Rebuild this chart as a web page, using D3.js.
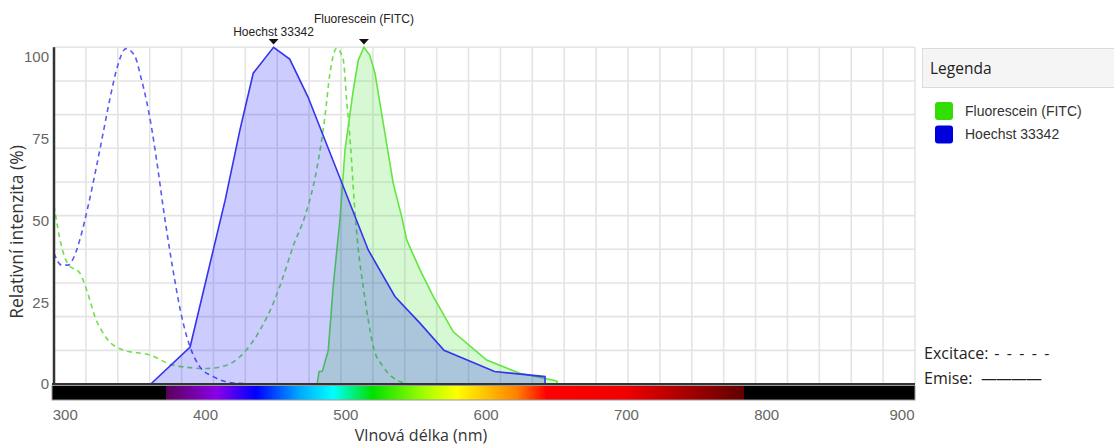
<!DOCTYPE html>
<html lang="cs">
<head>
  <meta charset="UTF-8" />
  <title>Spektra - Hoechst 33342 / FITC</title>
  <script src="https://d3js.org/d3.v7.min.js"></script>
  <style>
    html, body {
      margin: 0;
      padding: 0;
      width: 1114px;
      height: 446px;
      background: #fff;
      overflow: hidden;
      font-family: "Liberation Sans", Arial, sans-serif;
    }
    .tick-label { fill: #666; font-size: 15px; }
    .axis-title { fill: #333; font-size: 16px; font-family: "Open Sans", sans-serif; }
    .peak-label { fill: #222; font-size: 12px; }
  </style>
</head>
<body>
  <svg id="chart" width="1114" height="446"></svg>

  <script>
    /**************************************************************
     *                        DATA
     **************************************************************/
    // Hoechst 33342 - excitation (dashed)
    const hoechstExNm  = [292, 297.4, 302, 306, 310.5, 316.4, 322, 327, 332, 337, 343.3, 349.5, 354, 358, 362, 366, 370, 374, 378, 382, 386, 389, 396, 405.5, 419.6, 440];
    const hoechstExVal = [38.8, 35.3, 35.3, 37.5, 43, 53, 64, 74.5, 85, 94, 99.6, 97.5, 91, 84, 75, 64, 52, 41, 31, 22, 15, 11, 5.1, 2.2, 0.3, 0];

    // Hoechst 33342 - emission (solid, filled)
    const hoechstEmNm  = [347, 361, 389, 414, 424.5, 434, 448.5, 460, 473, 516, 535, 553, 570, 606, 642, 642];
    const hoechstEmVal = [0, 0, 11, 54.6, 75.4, 92.3, 100, 96.5, 85.3, 39.8, 26, 18, 10, 3.7, 2.2, 0];

    // Fluorescein (FITC) - excitation (dashed)
    const fitcExNm  = [292, 297.4, 302, 310.5, 315.3, 321.2, 329.5, 341.3, 360.4, 377, 400.8, 415, 424.5, 438.8, 448.3, 455.4, 462.5, 471, 479.2, 485.1, 488.7, 493.5, 498.2, 500.6, 503.5, 506, 508.9, 512.4, 516, 519.6, 526.7, 536.2, 545.7];
    const fitcExVal = [53, 40.8, 35.6, 32.9, 27.9, 20, 13.6, 10.1, 8.6, 5.6, 4.6, 5.6, 8.1, 16, 24, 31.9, 41, 50, 63.6, 79.4, 92.3, 99.7, 96.2, 84.3, 70, 54, 40, 28.9, 19, 11, 5.1, 1.2, 0];

    // Fluorescein (FITC) - emission (solid, filled)
    const fitcEmNm  = [479.6, 480.9, 483.2, 487.5, 491, 495.8, 499.4, 505.3, 508.9, 512.9, 517, 520.8, 526.7, 533.8, 539.8, 543.4, 552.9, 562.3, 576.6, 600.4, 624, 650.3, 651];
    const fitcEmVal = [0, 3.7, 3.7, 10, 29, 48.7, 69.5, 87.3, 96.2, 100, 97.7, 92.3, 77.4, 59.6, 49.7, 42.8, 33.9, 26, 15.5, 7.1, 3.2, 0.9, 0];

    // Axis ticks
    const xTicks = [300, 400, 500, 600, 700, 800, 900];
    const yTicks = [0, 25, 50, 75, 100];

    // Legend
    const legendNames = ["Fluorescein (FITC)", "Hoechst 33342"];

    // Visible spectrum strip under the x axis (nm -> colour)
    const spectrumNm     = [372, 372, 408, 436, 467, 491, 519, 558, 579, 622, 643, 700, 784, 784];
    const spectrumColors = ["#000", "#5a005a", "#8a00e8", "#0000ff", "#00a8ff", "#00ffff", "#00e000", "#aaff00", "#ffff00", "#ff8000", "#ff0000", "#f00000", "#600000", "#000"];

    /**************************************************************
     *                       LAYOUT
     **************************************************************/
    const plotLeft = 54, plotRight = 915, plotTop = 47.3, plotBottom = 384;
    const X_MIN = 292, X_MAX = 905.7;

    const svg = d3.select("#chart");

    const x = d3.scaleLinear().domain([X_MIN, X_MAX]).range([plotLeft, plotRight]);
    const y = d3.scaleLinear().domain([0, 100]).range([plotBottom, plotTop]);
    // the tick labels of the original sit a bit lower than the data scale
    const yLab = d3.scaleLinear().domain([0, 100]).range([plotBottom, 57]);

    const zip = (nm, v) => nm.map((d, i) => ({ nm: d, v: v[i] }));

    /**************************************************************
     *                       GRID
     **************************************************************/
    const grid = svg.append("g");
    const vGrid = d3.range(28).map(i => X_MIN + i * (X_MAX - X_MIN) / 27);
    grid.selectAll("line.v")
      .data(vGrid)
      .enter().append("line")
      .attr("class", "v")
      .attr("x1", d => x(d)).attr("x2", d => x(d))
      .attr("y1", plotTop).attr("y2", plotBottom)
      .attr("stroke", "#e4e4e4").attr("stroke-width", 1.6);
    grid.selectAll("line.h")
      .data(d3.range(0, 101, 10))
      .enter().append("line")
      .attr("class", "h")
      .attr("x1", plotLeft).attr("x2", plotRight)
      .attr("y1", d => y(d)).attr("y2", d => y(d))
      .attr("stroke", "#e4e4e4").attr("stroke-width", 1.6);

    /**************************************************************
     *                       CURVES
     **************************************************************/
    const dashedLine = d3.line().x(d => x(d.nm)).y(d => y(d.v)).curve(d3.curveMonotoneX);
    const solidLine = d3.line().x(d => x(d.nm)).y(d => y(d.v));
    const area = d3.area().x(d => x(d.nm)).y0(plotBottom).y1(d => y(d.v));

    // excitation (dashed) first, emissions are drawn over them
    svg.append("path")
      .attr("d", dashedLine(zip(fitcExNm, fitcExVal)))
      .attr("fill", "none").attr("stroke", "#6ee04c")
      .attr("stroke-width", 1.6).attr("stroke-dasharray", "5,4");
    svg.append("path")
      .attr("d", dashedLine(zip(hoechstExNm, hoechstExVal)))
      .attr("fill", "none").attr("stroke", "#5a5af5")
      .attr("stroke-width", 1.6).attr("stroke-dasharray", "5,4");

    // FITC emission
    const fitcEm = zip(fitcEmNm, fitcEmVal);
    svg.append("path").attr("d", area(fitcEm))
      .attr("fill", "#33dd22").attr("fill-opacity", 0.2);
    svg.append("path").attr("d", solidLine(fitcEm))
      .attr("fill", "none").attr("stroke", "#62e640").attr("stroke-width", 1.6);

    // Hoechst emission
    const hoechstEm = zip(hoechstEmNm, hoechstEmVal);
    svg.append("path").attr("d", area(hoechstEm))
      .attr("fill", "#0000ff").attr("fill-opacity", 0.2);
    svg.append("path").attr("d", solidLine(hoechstEm))
      .attr("fill", "none").attr("stroke", "#3434ee").attr("stroke-width", 1.6);

    /**************************************************************
     *                  PEAK MARKERS / LABELS
     **************************************************************/
    const peaks = [
      { name: "Hoechst 33342", data: hoechstEm, labelY: 36 },
      { name: "Fluorescein (FITC)", data: fitcEm, labelY: 23 }
    ];
    peaks.forEach(p => {
      const pk = p.data.reduce((a, b) => (b.v > a.v ? b : a));
      const px = x(pk.nm);
      svg.append("path")
        .attr("d", `M${px - 5},39 L${px + 5},39 L${px},44.5 Z`)
        .attr("fill", "#111");
      svg.append("text")
        .attr("class", "peak-label")
        .attr("x", px).attr("y", p.labelY)
        .attr("text-anchor", "middle")
        .text(p.name);
    });

    /**************************************************************
     *                        AXES
     **************************************************************/
    // spectrum strip
    const defs = svg.append("defs");
    const grad = defs.append("linearGradient")
      .attr("id", "spectrum")
      .attr("gradientUnits", "userSpaceOnUse")
      .attr("x1", plotLeft).attr("x2", plotRight).attr("y1", 0).attr("y2", 0);
    grad.selectAll("stop")
      .data(spectrumNm)
      .enter().append("stop")
      .attr("offset", d => (x(d) - plotLeft) / (plotRight - plotLeft))
      .attr("stop-color", (d, i) => spectrumColors[i]);

    svg.append("rect")
      .attr("x", plotLeft - 2).attr("y", 385.5)
      .attr("width", plotRight - plotLeft + 2).attr("height", 14.5)
      .attr("fill", "url(#spectrum)")
      .attr("stroke", "#999").attr("stroke-width", 1);

    // x baseline + y axis line
    svg.append("line")
      .attr("x1", plotLeft - 2).attr("x2", plotRight)
      .attr("y1", plotBottom).attr("y2", plotBottom)
      .attr("stroke", "#333").attr("stroke-width", 2);
    svg.append("line")
      .attr("x1", plotLeft).attr("x2", plotLeft)
      .attr("y1", plotTop).attr("y2", plotBottom + 1)
      .attr("stroke", "#333").attr("stroke-width", 2.5);

    // x tick labels (last one kept inside the plot)
    svg.selectAll("text.xt")
      .data(xTicks)
      .enter().append("text")
      .attr("class", "tick-label xt")
      .attr("x", d => Math.min(x(d), plotRight - 13))
      .attr("y", 420)
      .attr("text-anchor", "middle")
      .text(d => d);

    // y tick labels
    svg.selectAll("text.yt")
      .data(yTicks)
      .enter().append("text")
      .attr("class", "tick-label yt")
      .attr("x", 49)
      .attr("y", d => yLab(d))
      .attr("dy", "0.35em")
      .attr("text-anchor", "end")
      .text(d => d);

    // axis titles
    svg.append("text")
      .attr("class", "axis-title")
      .attr("x", 421).attr("y", 441)
      .attr("text-anchor", "middle")
      .text("Vlnová délka (nm)");
    svg.append("text")
      .attr("class", "axis-title")
      .attr("transform", "translate(23,232) rotate(-90)")
      .attr("text-anchor", "middle")
      .style("font-size", "17.5px")
      .text("Relativní intenzita (%)");

    /**************************************************************
     *                        LEGEND
     **************************************************************/
    const legend = svg.append("g");
    legend.append("rect")
      .attr("x", 922.5).attr("y", 48.5)
      .attr("width", 200).attr("height", 39)
      .attr("fill", "#f5f5f5").attr("stroke", "#dcdcdc");
    legend.append("text")
      .attr("x", 930).attr("y", 74)
      .attr("fill", "#222")
      .style("font-family", "'Open Sans', sans-serif")
      .style("font-size", "15.5px")
      .text("Legenda");

    const legendColor = d3.scaleOrdinal().domain(legendNames).range(["#33dd00", "#0000dd"]);
    const items = legend.selectAll("g.item")
      .data(legendNames)
      .enter().append("g")
      .attr("class", "item")
      .attr("transform", (d, i) => `translate(935,${102 + i * 23.5})`);
    items.append("rect")
      .attr("width", 18).attr("height", 18).attr("rx", 3)
      .attr("fill", d => legendColor(d));
    items.append("text")
      .attr("x", 30).attr("y", 9).attr("dy", "0.35em")
      .attr("fill", "#333")
      .style("font-size", "14px")
      .text(d => d);

    // line style key
    const key = svg.append("g")
      .style("font-family", "'Open Sans', sans-serif")
      .style("font-size", "16px")
      .attr("fill", "#222");
    const exText = key.append("text").attr("x", 924).attr("y", 359);
    exText.append("tspan").text("Excitace:");
    exText.append("tspan").attr("letter-spacing", "1.6px").text(" - - - - -");
    const emText = key.append("text").attr("x", 924).attr("y", 384);
    emText.append("tspan").text("Emise:");
    emText.append("tspan").attr("x", 981).attr("letter-spacing", "-1px").text("\u2014\u2014\u2014\u2014");
  </script>
</body>
</html>
